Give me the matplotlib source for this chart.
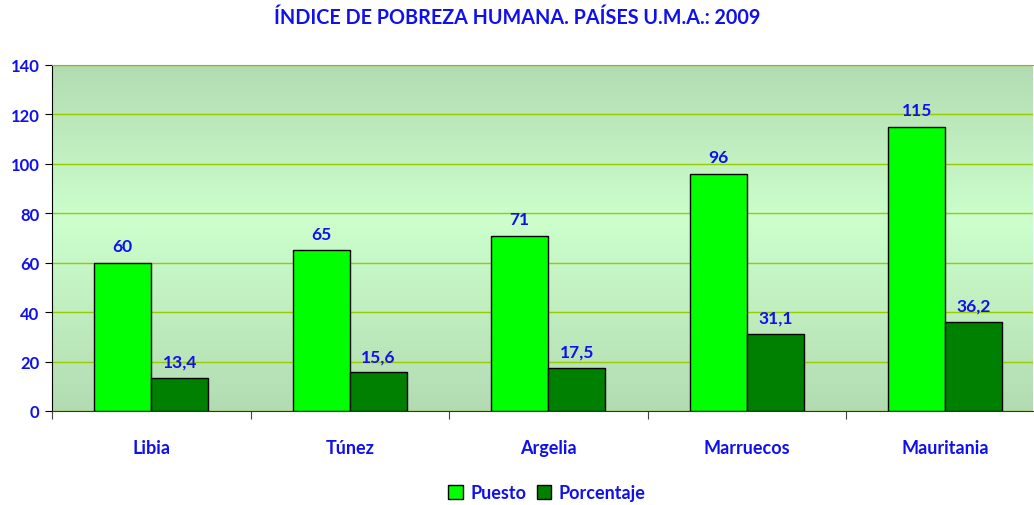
import matplotlib
matplotlib.use("Agg")
import matplotlib.pyplot as plt
import numpy as np

paises = ["Libia", "Túnez", "Argelia", "Marruecos", "Mauritania"]
puesto = [60, 65, 71, 96, 115]
porcentaje = [13.4, 15.6, 17.5, 31.1, 36.2]
etiq_puesto = ["60", "65", "71", "96", "115"]
etiq_porc = ["13,4", "15,6", "17,5", "31,1", "36,2"]

azul = "#1010ee"
plt.rcParams['font.family'] = ['Lato', 'DejaVu Sans']
plt.rcParams['font.weight'] = 'bold'

W, H = 1034, 506
fig = plt.figure(figsize=(W / 100, H / 100), dpi=100)
# plot area in pixels: left 52, right 1033, top 66, bottom 412
ax = fig.add_axes([52 / W, 1 - 412 / H, (1033 - 52) / W, (412 - 66) / H])

# gradient background
c_out = np.array([0.70, 0.86, 0.70])
c_in = np.array([0.80, 1.0, 0.80])
t = np.linspace(0, 1, 256)
mid = 0.55
w = np.where(t < mid, t / mid, (1 - t) / (1 - mid))
grad = c_out[None, :] * (1 - w[:, None]) + c_in[None, :] * w[:, None]
img = np.repeat(grad[:, None, :], 2, axis=1)
ax.imshow(img, extent=[0, 1, 0, 1], transform=ax.transAxes, origin="lower",
          aspect="auto", zorder=0)

x = np.arange(len(paises))
bw = 0.287
ax.bar(x - bw / 2, puesto, bw, color="#00ff00", edgecolor="black", lw=1, zorder=3, label="Puesto")
ax.bar(x + bw / 2, porcentaje, bw, color="#008000", edgecolor="black", lw=1, zorder=3, label="Porcentaje")

for i in range(len(paises)):
    ax.annotate(etiq_puesto[i], (x[i] - bw / 2, puesto[i]), xytext=(0, 6), textcoords="offset points",
                ha="center", va="bottom", color=azul, fontsize=12.5, fontweight="bold")
    ax.annotate(etiq_porc[i], (x[i] + bw / 2, porcentaje[i]), xytext=(0, 6), textcoords="offset points",
                ha="center", va="bottom", color=azul, fontsize=12.5, fontweight="bold")

ax.set_ylim(0, 140)
ax.set_yticks(range(0, 141, 20))
ax.yaxis.grid(True, color="#99cc00", lw=1, zorder=1)
ax.set_axisbelow(True)

ax.set_xticks(np.arange(-0.5, 5, 1.0))
ax.set_xticklabels([])
ax.set_xticks(x, minor=True)
ax.set_xticklabels(paises, minor=True)
ax.set_xlim(-0.5, -0.5 + (1033 - 52) / 198.5)
ax.tick_params(axis="x", which="major", length=6, direction="out", color="#444444")
ax.tick_params(axis="x", which="minor", length=0, pad=20, labelsize=13, labelcolor=azul)
ax.tick_params(axis="y", length=5, direction="out", labelsize=12, labelcolor=azul, pad=4)
for lab in ax.get_xticklabels(minor=True) + ax.get_yticklabels():
    lab.set_fontweight("bold")

ax.spines["left"].set_color("black")
ax.spines["bottom"].set_color("#333333")
ax.spines["top"].set_color("#999999")
ax.spines["right"].set_visible(False)

fig.text(0.5, 1 - 18 / H, "ÍNDICE DE POBREZA HUMANA. PAÍSES U.M.A.: 2009", ha="center", va="center",
         color=azul, fontsize=14.2, fontweight="bold")

leg = fig.legend(loc="center", bbox_to_anchor=(547 / W, 1 - 494 / H), ncol=2, frameon=False,
                 handlelength=0.8, handleheight=0.8, handletextpad=0.4, columnspacing=0.6,
                 prop={"size": 13, "weight": "bold"})
for txt in leg.get_texts():
    txt.set_color(azul)

fig.savefig("out.png", dpi=100)
